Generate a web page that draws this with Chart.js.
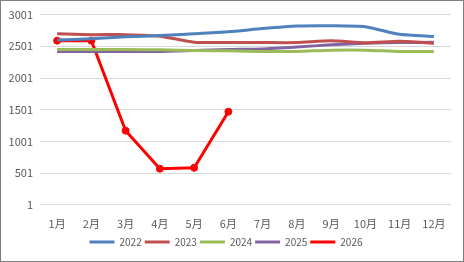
<!DOCTYPE html>
<html>
<head>
<meta charset="utf-8">
<script src="https://cdn.jsdelivr.net/npm/chart.js@4.4.1/dist/chart.umd.min.js"></script>
<style>
  html, body { margin: 0; padding: 0; background: #fff; }
  #wrap { position: relative; width: 462px; height: 260px; border: 1px solid #7f7f7f; }
</style>
</head>
<body>
<div id="wrap"><canvas id="grafico"></canvas></div>
<script>
const meses = ["1月", "2月", "3月", "4月", "5月", "6月", "7月", "8月", "9月", "10月", "11月", "12月"];
const ticksY = [1, 501, 1001, 1501, 2001, 2501, 3001];

const serie2022 = [2600, 2620, 2650, 2670, 2700, 2730, 2780, 2820, 2825, 2810, 2690, 2655];
const serie2023 = [2700, 2685, 2685, 2660, 2565, 2560, 2560, 2560, 2590, 2557, 2580, 2550];
const serie2024 = [2450, 2450, 2450, 2445, 2435, 2430, 2420, 2420, 2440, 2440, 2418, 2418];
const serie2025 = [2418, 2418, 2418, 2420, 2433, 2450, 2460, 2490, 2525, 2550, 2560, 2565];
const serie2026 = [2590, 2590, 1170, 570, 585, 1470];

const fuente = "'Noto Sans CJK SC', 'Noto Sans', sans-serif";

function linea(label, data, color, extra = {}) {
  return Object.assign({
    label,
    data,
    borderColor: color,
    backgroundColor: color,
    borderWidth: 3,
    pointRadius: 0,
    tension: 0.2,
    fill: false
  }, extra);
}

const ctx = document.getElementById("grafico").getContext("2d");
new Chart(ctx, {
  type: "line",
  data: {
    labels: meses,
    datasets: [
      linea("2022", serie2022, "#4F81BD"),
      linea("2023", serie2023, "#C0504D"),
      linea("2024", serie2024, "#9BBB59"),
      linea("2025", serie2025, "#8064A2"),
      linea("2026", serie2026, "#FF0000", { pointRadius: 3.5, pointBorderWidth: 1, pointBackgroundColor: "#FF0000", tension: 0 })
    ]
  },
  options: {
    responsive: true,
    maintainAspectRatio: false,
    animation: false,
    layout: { padding: { top: 8, right: 12, left: 0, bottom: 4 } },
    plugins: {
      tooltip: { enabled: false },
      legend: {
        position: "bottom",
        labels: {
          font: { family: fuente, size: 10 },
          color: "#595959",
          boxWidth: 25,
          boxHeight: 3,
          padding: 3,
          generateLabels: (chart) => chart.data.datasets.map((ds, i) => ({
            text: ds.label,
            fillStyle: ds.borderColor,
            strokeStyle: ds.borderColor,
            lineWidth: 0,
            fontColor: "#595959",
            datasetIndex: i,
            hidden: false
          }))
        }
      }
    },
    scales: {
      x: {
        offset: true,
        grid: { display: false },
        border: { display: false },
        ticks: { font: { family: fuente, size: 11 }, color: "#595959", padding: 4 }
      },
      y: {
        min: 1,
        max: 3001,
        afterBuildTicks: (scale) => { scale.ticks = ticksY.map(v => ({ value: v })); },
        afterFit: (scale) => { scale.width = 39; },
        grid: { color: "#d9d9d9", drawTicks: false },
        border: { display: false },
        ticks: {
          font: { family: fuente, size: 11 },
          color: "#595959",
          padding: 7,
          callback: (v) => String(v)
        }
      }
    }
  }
});
</script>
</body>
</html>
